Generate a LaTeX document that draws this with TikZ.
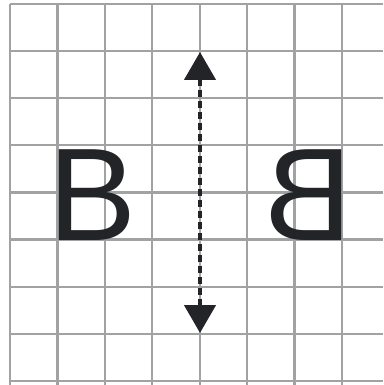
\documentclass[tikz,border=0pt]{standalone}
\usepackage{fontspec}
\setmainfont{Liberation Sans}
\usetikzlibrary{arrows.meta}
\definecolor{gridgray}{HTML}{A2A2A2}
\definecolor{ink}{HTML}{222428}
\begin{document}
\begin{tikzpicture}[x=1pt,y=-1pt,
  gridline/.style={gridgray,line width=2.2pt},
  letter/.style={ink,inner sep=0pt,anchor=base,font=\fontsize{132}{132}\selectfont},
  mirrorarrow/.style={ink,line width=4.5pt,dash pattern=on 7pt off 4pt,
    {Triangle[width=31pt,length=28pt]}-{Triangle[width=31pt,length=28pt]}}]
\useasboundingbox[fill=white] (0,0) rectangle (383,385);
% grid
\foreach \i in {0,...,7} {
  \draw[gridline] ({10+47.4*\i},4) -- ({10+47.4*\i},385);
}
\foreach \j in {0,...,8} {
  \draw[gridline] (10,{4+47.1*\j}) -- (383,{4+47.1*\j});
}
% letters
\node[letter] (bl) at (92.5,240) {B};
\node[letter,xscale=-1] (br) at (308,240) {B};
% mirror axis
\coordinate (atop) at (200,52);
\coordinate (abot) at (200,333);
\draw[mirrorarrow] (atop) -- (abot);
\end{tikzpicture}
\end{document}
